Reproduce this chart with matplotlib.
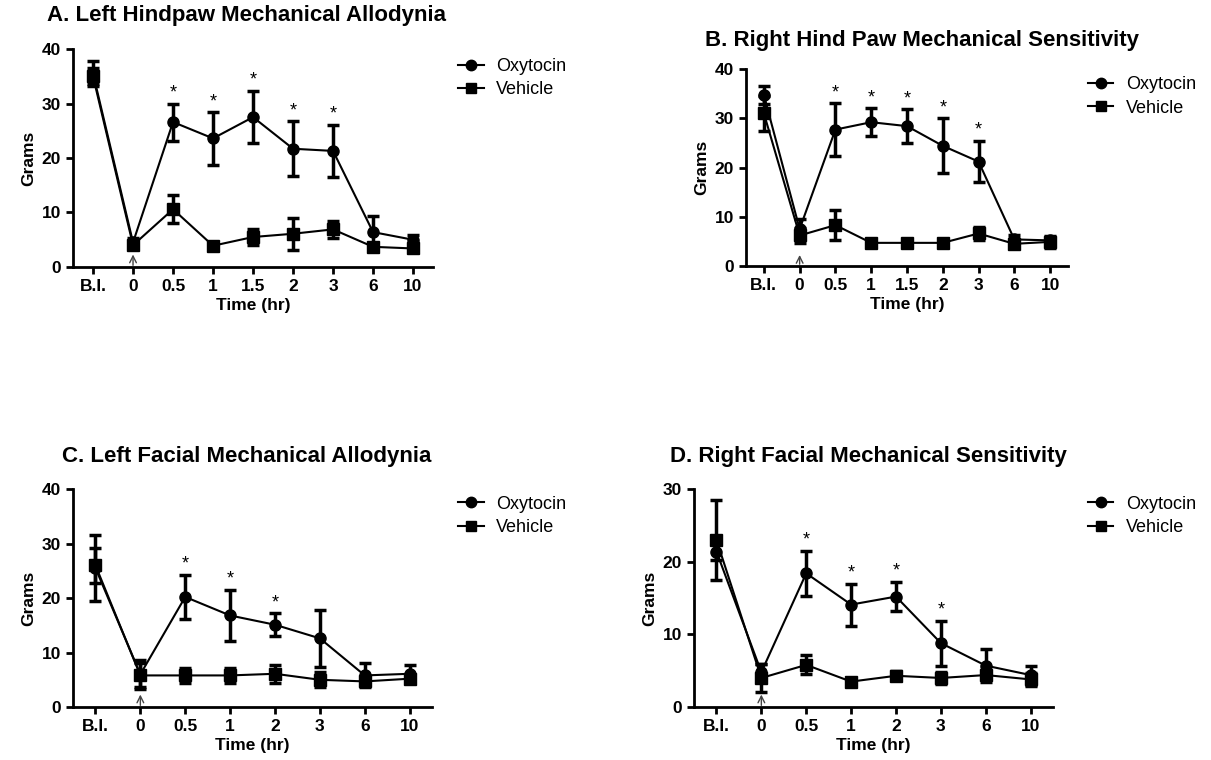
import matplotlib
matplotlib.use('Agg')
import matplotlib.pyplot as plt
from matplotlib.lines import Line2D
import numpy as np

plt.rcParams.update({
    'font.family': ['Liberation Sans', 'DejaVu Sans'],
    'font.size': 12,
    'axes.linewidth': 2.0,
    'xtick.major.width': 2.0,
    'ytick.major.width': 2.0,
    'xtick.major.size': 5,
    'ytick.major.size': 5,
    'xtick.direction': 'out',
    'ytick.direction': 'out',
})

# Data (mean, SEM)
times_ab = ['B.I.', '0', '0.5', '1', '1.5', '2', '3', '6', '10']
times_cd = ['B.I.', '0', '0.5', '1', '2', '3', '6', '10']

a_oxy = [35.5, 4.5, 26.6, 23.6, 27.5, 21.7, 21.3, 6.4, 5.0]
a_oxy_err = [2.3, 0.8, 3.4, 4.8, 4.8, 5.0, 4.8, 2.9, 0.9]
a_veh = [35.0, 4.0, 10.6, 3.9, 5.5, 6.1, 6.9, 3.7, 3.4]
a_veh_err = [1.5, 0.5, 2.6, 0.3, 1.4, 2.9, 1.5, 0.4, 0.5]
a_sig = [2, 3, 4, 5, 6]

b_oxy = [34.7, 7.5, 27.7, 29.2, 28.4, 24.4, 21.2, 5.4, 5.2]
b_oxy_err = [1.8, 2.0, 5.4, 2.8, 3.4, 5.6, 4.2, 0.8, 0.6]
b_veh = [31.0, 6.2, 8.3, 4.7, 4.7, 4.7, 6.6, 4.5, 4.9]
b_veh_err = [3.5, 1.5, 3.1, 0.3, 0.3, 0.3, 1.4, 0.6, 1.2]
b_sig = [2, 3, 4, 5, 6]

c_oxy = [25.5, 6.0, 20.2, 16.8, 15.1, 12.6, 5.8, 6.1]
c_oxy_err = [6.0, 2.6, 4.1, 4.7, 2.1, 5.2, 2.2, 1.7]
c_veh = [26.0, 5.8, 5.8, 5.8, 6.1, 5.0, 4.7, 5.2]
c_veh_err = [3.2, 2.2, 1.3, 1.3, 1.7, 1.4, 0.6, 0.6]
c_sig = [2, 3, 4]

d_oxy = [21.4, 4.8, 18.4, 14.1, 15.2, 8.8, 5.7, 4.4]
d_oxy_err = [1.1, 1.1, 3.1, 2.9, 2.0, 3.1, 2.3, 1.3]
d_veh = [23.0, 4.0, 5.8, 3.5, 4.3, 4.0, 4.4, 3.8]
d_veh_err = [5.5, 1.9, 1.3, 0.3, 0.6, 0.8, 0.6, 0.9]
d_sig = [2, 3, 4, 5]

panels = [
    dict(title='A. Left Hindpaw Mechanical Allodynia', labels=times_ab,
         oxy=a_oxy, oxy_err=a_oxy_err, veh=a_veh, veh_err=a_veh_err, sig=a_sig,
         rect=[0.0603, 0.6487, 0.2973, 0.2868], ymax=40, yticks=[0, 10, 20, 30, 40],
         title_xy=(0.039, 0.979), leg_xy=(0.365, 0.945), star_off=1.0),
    dict(title='B. Right Hind Paw Mechanical Sensitivity', labels=times_ab,
         oxy=b_oxy, oxy_err=b_oxy_err, veh=b_veh, veh_err=b_veh_err, sig=b_sig,
         rect=[0.616, 0.650, 0.2659, 0.2592], ymax=40, yticks=[0, 10, 20, 30, 40],
         title_xy=(0.582, 0.947), leg_xy=(0.885, 0.921), star_off=1.0),
    dict(title='C. Left Facial Mechanical Allodynia', labels=times_cd,
         oxy=c_oxy, oxy_err=c_oxy_err, veh=c_veh, veh_err=c_veh_err, sig=c_sig,
         rect=[0.0603, 0.0697, 0.2965, 0.2868], ymax=40, yticks=[0, 10, 20, 30, 40],
         title_xy=(0.051, 0.399), leg_xy=(0.365, 0.369), star_off=1.0),
    dict(title='D. Right Facial Mechanical Sensitivity', labels=times_cd,
         oxy=d_oxy, oxy_err=d_oxy_err, veh=d_veh, veh_err=d_veh_err, sig=d_sig,
         rect=[0.5731, 0.0697, 0.2965, 0.2868], ymax=30, yticks=[0, 10, 20, 30],
         title_xy=(0.553, 0.399), leg_xy=(0.885, 0.369), star_off=0.75),
]

fig = plt.figure(figsize=(12.11, 7.6), dpi=100)

for p in panels:
    ax = fig.add_axes(p['rect'])
    x = np.arange(len(p['labels']))
    for y, e, m in [(p['veh'], p['veh_err'], 's'), (p['oxy'], p['oxy_err'], 'o')]:
        ax.errorbar(x, y, yerr=e, color='black', linewidth=1.5, marker=m,
                    markersize=8, elinewidth=2.5, capsize=4.5, capthick=2.5,
                    clip_on=False, zorder=3)
    top = np.array(p['oxy']) + np.array(p['oxy_err'])
    for i in p['sig']:
        ax.text(x[i], top[i] + p['star_off'] * 0.4, '*', ha='center', va='bottom',
                fontsize=13)
    # injection arrow at time 0
    ax.annotate('', xy=(1, 0.07), xytext=(1, -0.005),
                xycoords=('data', 'axes fraction'),
                arrowprops=dict(arrowstyle='->', color='#444444', lw=1.0,
                                mutation_scale=12))
    ax.set_xlim(-0.5, len(x) - 0.5)
    ax.set_ylim(0, p['ymax'])
    ax.set_yticks(p['yticks'])
    ax.set_xticks(x)
    ax.set_xticklabels(p['labels'])
    for lab in ax.get_xticklabels() + ax.get_yticklabels():
        lab.set_fontweight('bold')
        lab.set_fontsize(12.5)
    ax.spines['top'].set_visible(False)
    ax.spines['right'].set_visible(False)
    ax.set_ylabel('Grams', fontsize=12.5, fontweight='bold')
    ax.set_xlabel('Time (hr)', fontsize=12.5, fontweight='bold', labelpad=3)
    fig.text(p['title_xy'][0], p['title_xy'][1], p['title'], fontsize=16,
             fontweight='bold', ha='left', va='center')
    handles = [Line2D([], [], color='black', marker='o', markersize=7.5, lw=1.5),
               Line2D([], [], color='black', marker='s', markersize=7.5, lw=1.5)]
    fig.legend(handles, ['Oxytocin', 'Vehicle'], loc='upper left',
               bbox_to_anchor=p['leg_xy'], frameon=False, fontsize=13,
               handlelength=1.4, handletextpad=0.7, labelspacing=0.35)

fig.savefig('out.png', dpi=100)
